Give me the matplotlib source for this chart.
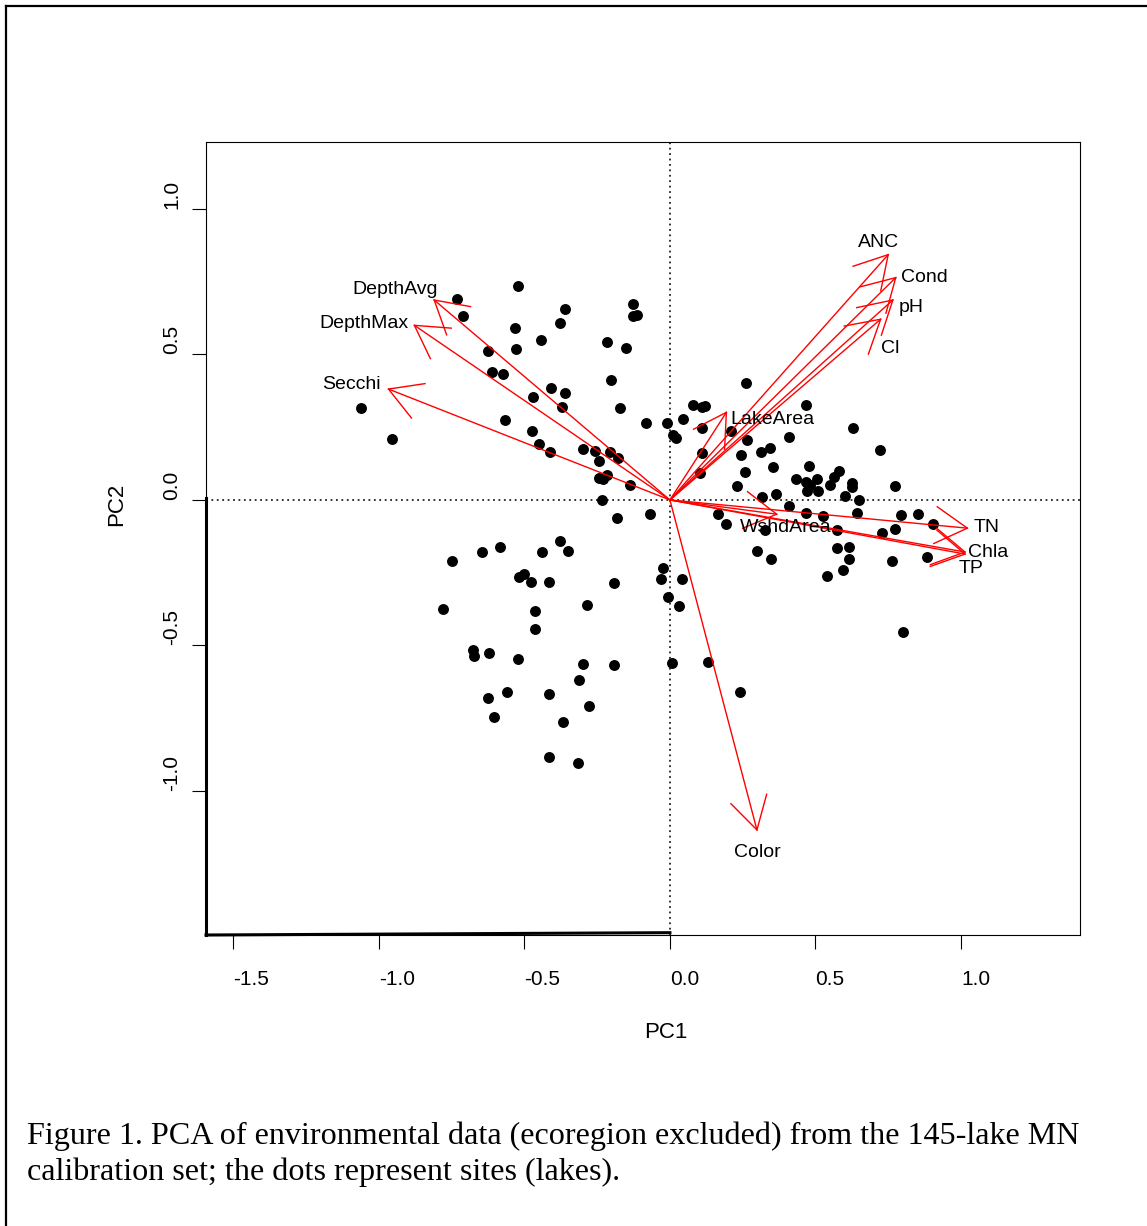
import matplotlib
matplotlib.use("Agg")
import matplotlib.pyplot as plt
import numpy as np

# site scores (PC1, PC2)
site_pc1 = [
    -0.730, -0.710, -0.521, -0.362, -0.128, -0.126, -0.114, -0.533, -0.377, -0.444,
    -0.626, -0.528, -0.216, -0.152, -0.611, -0.573, -0.202, -0.409, -0.362, -0.470,
    -0.371, -0.171, -0.568, -0.081, -0.009, 0.009, 0.021, -0.475, -0.450, -0.412,
    -0.299, -0.258, -0.206, -0.180, -0.242, -0.244, -0.229, -0.215, -0.137, -0.233,
    -1.062, -0.956, -0.181, -0.069,
    0.261, 0.080, 0.109, 0.120, 0.467, 0.044, 0.111, 0.209, 0.629, 0.266,
    0.410, 0.313, 0.344, 0.245, 0.110, 0.722, 0.259, 0.355, 0.478, 0.104,
    0.432, 0.467, 0.504, 0.481, 0.470, 0.510, 0.551, 0.565, 0.581, 0.626,
    0.626, 0.773, 0.230, 0.602, 0.651, 0.317, 0.364, 0.410, 0.467, 0.526,
    0.644, 0.794, 0.852, 0.905, 0.164, 0.192, 0.327, 0.573, 0.727, 0.774,
    0.298, 0.348, 0.573, 0.614, 0.614, 0.593, 0.541, 0.764, 0.883, 0.802,
    0.007, 0.132, 0.241, -0.025, -0.031, 0.042, -0.008, 0.032,
    -0.750, -0.647, -0.584, -0.440, -0.378, -0.351, -0.518, -0.502, -0.477, -0.415,
    -0.192, -0.781, -0.465, -0.465, -0.284, -0.675, -0.673, -0.621, -0.521, -0.300,
    -0.192, -0.312, -0.626, -0.559, -0.415, -0.279, -0.605, -0.367, -0.415, -0.315,
]
site_pc2 = [
    0.690, 0.632, 0.735, 0.657, 0.674, 0.632, 0.637, 0.590, 0.607, 0.549,
    0.512, 0.518, 0.544, 0.521, 0.440, 0.433, 0.413, 0.384, 0.367, 0.353,
    0.321, 0.316, 0.274, 0.264, 0.264, 0.223, 0.212, 0.237, 0.192, 0.164,
    0.175, 0.169, 0.166, 0.143, 0.134, 0.077, 0.072, 0.084, 0.051, 0.000,
    0.315, 0.211, -0.063, -0.048,
    0.401, 0.326, 0.321, 0.323, 0.325, 0.277, 0.248, 0.237, 0.248, 0.206,
    0.215, 0.165, 0.180, 0.154, 0.160, 0.171, 0.096, 0.112, 0.118, 0.092,
    0.072, 0.063, 0.072, 0.052, 0.032, 0.032, 0.052, 0.078, 0.101, 0.059,
    0.044, 0.049, 0.049, 0.015, -0.001, 0.010, 0.020, -0.021, -0.044, -0.056,
    -0.044, -0.052, -0.048, -0.082, -0.048, -0.084, -0.104, -0.104, -0.114, -0.100,
    -0.174, -0.203, -0.166, -0.162, -0.204, -0.241, -0.260, -0.209, -0.197, -0.453,
    -0.561, -0.556, -0.660, -0.235, -0.273, -0.273, -0.334, -0.365,
    -0.209, -0.179, -0.163, -0.179, -0.140, -0.174, -0.266, -0.254, -0.282, -0.282,
    -0.286, -0.376, -0.380, -0.442, -0.360, -0.515, -0.536, -0.527, -0.546, -0.563,
    -0.567, -0.619, -0.681, -0.661, -0.666, -0.707, -0.745, -0.763, -0.883, -0.905,
]

# variable loadings (arrow tips)
variables = ["DepthAvg", "DepthMax", "Secchi", "ANC", "Cond", "pH", "Cl",
             "LakeArea", "WshdArea", "TN", "Chla", "TP", "Color"]
load_pc1 = [-0.810, -0.878, -0.967, 0.750, 0.776, 0.766, 0.724,
            0.194, 0.367, 1.022, 1.014, 1.014, 0.299]
load_pc2 = [0.687, 0.600, 0.381, 0.843, 0.764, 0.687, 0.621,
            0.301, -0.049, -0.097, -0.179, -0.186, -1.134]

# where the variable names sit
label_x = [-0.945, -1.052, -1.093, 0.718, 0.876, 0.828, 0.756,
           0.351, 0.399, 1.089, 1.093, 1.034, 0.302]
label_y = [0.722, 0.608, 0.395, 0.886, 0.766, 0.663, 0.522,
           0.275, -0.096, -0.096, -0.182, -0.234, -1.213]

xticks = [-1.5, -1.0, -0.5, 0.0, 0.5, 1.0]
yticks = [-1.0, -0.5, 0.0, 0.5, 1.0]

plt.rcParams.update({
    "font.family": ["Liberation Sans", "DejaVu Sans"],
    "axes.linewidth": 0.8,
})

W, H = 1147, 1226
fig = plt.figure(figsize=(W / 100, H / 100), dpi=100)
ax = fig.add_axes([206 / W, 1 - 935 / H, 874 / W, 793 / H])
xmin, xmax = -1.594, 1.409
ymin, ymax = -1.495, 1.230
ax.set_xlim(xmin, xmax)
ax.set_ylim(ymin, ymax)

ax.axhline(0, color="#222222", lw=1.3, ls=(0, (1, 2)), zorder=1)
ax.axvline(0, color="#222222", lw=1.3, ls=(0, (1, 2)), zorder=1)

ax.scatter(site_pc1, site_pc2, s=62, color="black", zorder=3, linewidths=0)

head_len = 0.127
head_ang = np.deg2rad(30)
for name, x, y, lx, ly in zip(variables, load_pc1, load_pc2, label_x, label_y):
    ax.plot([0, x], [0, y], color="red", lw=1.0, zorder=4, solid_capstyle="butt")
    ang = np.arctan2(y, x)
    for s in (1, -1):
        a = ang + np.pi + s * head_ang
        ax.plot([x, x + head_len * np.cos(a)], [y, y + head_len * np.sin(a)],
                color="red", lw=1.0, zorder=4)
    ax.text(lx, ly, name, fontsize=14, ha="center", va="center", zorder=5)

# heavy edge strokes seen on the original frame
ax.plot([xmin, xmin], [ymin, 0.005], color="black", lw=2.2, zorder=6, clip_on=False)
ax.plot([xmin, 0], [ymin, ymin + 0.008], color="black", lw=2.2, zorder=6, clip_on=False)

ax.set_xticks(xticks)
ax.set_xticklabels([f"{t:.1f}" for t in xticks], ha="left")
ax.set_yticks(yticks)
ax.set_yticklabels([f"{t:.1f}" for t in yticks], rotation=90, va="bottom", ha="right")
ax.tick_params(axis="both", direction="out", length=10, width=0.8, labelsize=15)
ax.tick_params(axis="x", pad=15.5)
ax.tick_params(axis="y", pad=8)

fig.text(666 / W, 1 - 1033 / H, "PC1", fontsize=16, ha="center", va="center")
fig.text(117 / W, 1 - 504 / H, "PC2", fontsize=16, ha="center", va="center", rotation=90)

cap = dict(fontsize=23.1, ha="left", va="baseline", family=["Liberation Serif", "DejaVu Serif"])
fig.text(27 / W, 1 - 1144 / H,
         "Figure 1. PCA of environmental data (ecoregion excluded) from the 145-lake MN", **cap)
fig.text(27 / W, 1 - 1180 / H, "calibration set; the dots represent sites (lakes).", **cap)

# outer frame (top and left edges visible)
fig.add_artist(plt.Line2D([6 / W, 1], [1 - 6 / H, 1 - 6 / H], color="black", lw=1.6,
                          transform=fig.transFigure))
fig.add_artist(plt.Line2D([6 / W, 6 / W], [0, 1 - 6 / H], color="black", lw=1.6,
                          transform=fig.transFigure))

fig.savefig("out.png", dpi=100)
